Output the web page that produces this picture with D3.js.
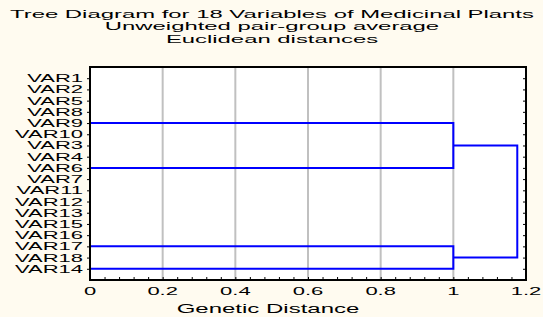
<!DOCTYPE html>
<html>
<head>
<meta charset="utf-8">
<script src="https://cdn.jsdelivr.net/npm/d3@7"></script>
<style>
  body { margin: 0; background: #fffbf0; }
  svg { display: block; }
  text { font-family: "Liberation Sans", Arial, sans-serif; fill: #000; }
</style>
</head>
<body>
<div id="container"></div>
<script>
//------------------------------DATA------------------------------//
const titleLines = ["Tree Diagram for 18 Variables of Medicinal Plants",
                    "Unweighted pair-group average",
                    "Euclidean distances"];
const xTitle = "Genetic Distance";
const leaves = ["VAR1", "VAR2", "VAR5", "VAR8", "VAR9", "VAR10", "VAR3", "VAR4", "VAR6",
                "VAR7", "VAR11", "VAR12", "VAR13", "VAR15", "VAR16", "VAR17", "VAR18", "VAR14"];
// variables linked at distance 0
const zeroGroups = [["VAR1", "VAR2", "VAR5", "VAR8", "VAR9"],
                    ["VAR10", "VAR3", "VAR4", "VAR6"],
                    ["VAR7", "VAR11", "VAR12", "VAR13", "VAR15", "VAR16", "VAR17"],
                    ["VAR18", "VAR14"]];
// later joins: a, b = node index (groups first, then joins), dist = linkage distance
const joins = [{a: 0, b: 1, dist: 1.0},
               {a: 2, b: 3, dist: 1.0},
               {a: 4, b: 5, dist: 1.176}];
const xTicks = [0, 0.2, 0.4, 0.6, 0.8, 1.0, 1.2];

//------------------------------SVG-------------------------------//
const width = 543, height = 317;
const mLeft = 90, mRight = 526, mTop = 67, mBottom = 280;
const sx = 2; // the original text is drawn about twice as wide

const svg = d3.select("#container").append("svg")
    .attr("width", width)
    .attr("height", height);

svg.append("rect").attr("width", width).attr("height", height).attr("fill", "#fffbf0");
svg.append("rect")
    .attr("x", mLeft).attr("y", mTop)
    .attr("width", mRight - mLeft).attr("height", mBottom - mTop)
    .attr("fill", "#ffffff");

//-----------------------------SCALES-----------------------------//
const x = d3.scaleLinear().domain([0, 1.2]).range([mLeft, mRight]);
const y = d3.scalePoint().domain(leaves).range([mTop, mBottom]).padding(1);

// grid
svg.selectAll(".grid")
    .data(xTicks.filter(d => d > 0 && d < 1.2))
    .enter().append("line")
    .attr("x1", d => x(d)).attr("x2", d => x(d))
    .attr("y1", mTop).attr("y2", mBottom)
    .attr("stroke", "#c0c0c0")
    .attr("stroke-width", 2);

//------------------------------TREE------------------------------//
const nodes = zeroGroups.map(g => ({y: y(g[g.length - 1]), dist: 0, y0: y(g[0])}));
const tree = svg.append("g")
    .attr("fill", "none")
    .attr("stroke", "#0000ff")
    .attr("stroke-width", 2);

nodes.forEach(n => {
    tree.append("line")
        .attr("x1", x(0)).attr("x2", x(0))
        .attr("y1", n.y0).attr("y2", n.y);
});

joins.forEach(j => {
    const a = nodes[j.a], b = nodes[j.b];
    tree.append("path")
        .attr("d", "M" + x(a.dist) + "," + a.y +
                   "H" + x(j.dist) +
                   "V" + b.y +
                   "H" + x(b.dist));
    nodes.push({y: (a.y + b.y) / 2, dist: j.dist});
});

//------------------------------AXES------------------------------//
const xAxis = d3.axisBottom(x)
    .tickValues(d3.range(0, 1.2001, 0.04))
    .tickSize(-3)
    .tickFormat("");
svg.append("g")
    .attr("transform", "translate(0," + mBottom + ")")
    .call(xAxis)
    .call(g => g.select(".domain").remove())
    .call(g => g.selectAll("line").attr("stroke", "#000"));

const yAxis = d3.axisLeft(y).tickSize(3).tickFormat("");
svg.append("g")
    .attr("transform", "translate(" + mLeft + ",0)")
    .call(yAxis)
    .call(g => g.select(".domain").remove());

const yAxisR = d3.axisRight(y).tickSize(2).tickFormat("");
svg.append("g")
    .attr("transform", "translate(" + (mRight - 1) + ",0)")
    .call(yAxisR)
    .call(g => g.select(".domain").remove())
    .call(g => g.selectAll("line").attr("x1", -2));

// frame
svg.append("rect")
    .attr("x", mLeft).attr("y", mTop)
    .attr("width", mRight - mLeft).attr("height", mBottom - mTop)
    .attr("fill", "none")
    .attr("stroke", "#000")
    .attr("stroke-width", 2);

//------------------------------TEXT------------------------------//
svg.selectAll(".ylab")
    .data(leaves)
    .enter().append("text")
    .attr("transform", d => "translate(" + (mLeft - 7) + "," + (y(d) + 4) + ") scale(" + sx + ",1)")
    .attr("text-anchor", "end")
    .style("font-size", "11px")
    .text(d => d);

svg.selectAll(".xlab")
    .data(xTicks)
    .enter().append("text")
    .attr("transform", d => "translate(" + x(d) + "," + (mBottom + 15) + ") scale(" + sx + ",1)")
    .attr("text-anchor", "middle")
    .style("font-size", "11px")
    .text(d => String(+d.toFixed(1)));

svg.append("text")
    .attr("transform", "translate(268,313) scale(" + sx + ",1)")
    .attr("text-anchor", "middle")
    .style("font-size", "12px")
    .text(xTitle);

svg.selectAll(".title")
    .data(titleLines)
    .enter().append("text")
    .attr("transform", (d, i) => "translate(272," + (17.5 + i * 12.6) + ") scale(2.17,1)")
    .attr("text-anchor", "middle")
    .style("font-size", "11px")
    .text(d => d);
</script>
</body>
</html>
